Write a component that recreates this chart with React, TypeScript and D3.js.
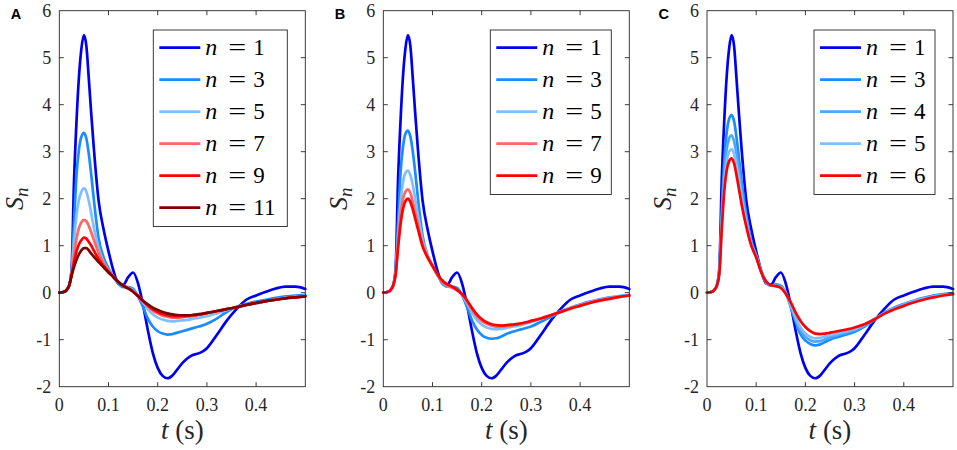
import React from 'react';
import * as d3 from 'd3';

// sample times (s), finer around the sharp peak
const T = [
  0, 0.01, 0.015, 0.02,
  0.025, 0.03, 0.035, 0.04, 0.045, 0.05, 0.055, 0.06, 0.065, 0.07,
  0.08, 0.09, 0.1, 0.11, 0.12, 0.13, 0.14, 0.15, 0.16, 0.17,
  0.18, 0.19, 0.2, 0.21, 0.22, 0.23, 0.24, 0.25, 0.26, 0.27, 0.28, 0.29, 0.3,
  0.32, 0.34, 0.36, 0.38, 0.4, 0.42, 0.44, 0.46, 0.48, 0.5,
];

// n = 1, same in every panel
const S1 = [
  0, 0.02, 0.06, 0.15,
  0.5, 2.4, 3.65, 4.6, 5.2, 5.48, 5.25, 4.55, 3.8, 3.1,
  1.95, 1.35, 0.88, 0.47, 0.2, 0.17, 0.33, 0.43, 0.2, -0.25,
  -0.8, -1.28, -1.6, -1.77, -1.82, -1.76, -1.63, -1.5, -1.4, -1.33, -1.3, -1.26, -1.18,
  -0.9, -0.6, -0.35, -0.15, -0.06, 0.02, 0.09, 0.13, 0.13, 0.08,
];

// panel A
const A3 = [
  0, 0.02, 0.06, 0.15,
  0.45, 1.5, 2.5, 3.05, 3.32, 3.4, 3.28, 2.95, 2.5, 2.0,
  1.15, 0.75, 0.52, 0.34, 0.19, 0.12, 0.12, 0.08, -0.08, -0.3,
  -0.55, -0.72, -0.82, -0.87, -0.89, -0.88, -0.85, -0.82, -0.79, -0.76, -0.73, -0.7, -0.66,
  -0.55, -0.41, -0.3, -0.24, -0.19, -0.15, -0.11, -0.08, -0.06, -0.05,
];
const A5 = [
  0, 0.02, 0.06, 0.15,
  0.42, 1.1, 1.65, 1.98, 2.15, 2.22, 2.15, 1.95, 1.68, 1.4,
  0.95, 0.66, 0.48, 0.34, 0.22, 0.15, 0.11, 0.05, -0.06, -0.2,
  -0.35, -0.46, -0.53, -0.57, -0.6, -0.61, -0.6, -0.59, -0.58, -0.56, -0.54, -0.52, -0.5,
  -0.44, -0.37, -0.31, -0.26, -0.22, -0.18, -0.14, -0.11, -0.09, -0.07,
];
const A7 = [
  0, 0.02, 0.06, 0.15,
  0.4, 0.8, 1.15, 1.38, 1.5, 1.55, 1.52, 1.42, 1.28, 1.13,
  0.85, 0.63, 0.47, 0.34, 0.23, 0.15, 0.1, 0.03, -0.07, -0.18,
  -0.29, -0.38, -0.44, -0.49, -0.51, -0.53, -0.53, -0.52, -0.51, -0.5, -0.48, -0.46, -0.44,
  -0.4, -0.35, -0.31, -0.26, -0.22, -0.18, -0.14, -0.11, -0.09, -0.07,
];
const A9 = [
  0, 0.02, 0.06, 0.15,
  0.38, 0.65, 0.88, 1.03, 1.12, 1.17, 1.15, 1.08, 1.0, 0.9,
  0.72, 0.57, 0.45, 0.34, 0.23, 0.15, 0.09, 0.02, -0.07, -0.17,
  -0.27, -0.35, -0.41, -0.45, -0.48, -0.5, -0.5, -0.5, -0.49, -0.48, -0.47, -0.45, -0.43,
  -0.39, -0.35, -0.31, -0.26, -0.22, -0.18, -0.15, -0.12, -0.1, -0.08,
];
const A11 = [
  0, 0.02, 0.06, 0.15,
  0.36, 0.55, 0.7, 0.82, 0.9, 0.95, 0.95, 0.9, 0.83, 0.77,
  0.65, 0.54, 0.43, 0.33, 0.23, 0.15, 0.09, 0.02, -0.07, -0.17,
  -0.25, -0.32, -0.37, -0.41, -0.44, -0.46, -0.475, -0.48, -0.48, -0.475, -0.46, -0.45, -0.43,
  -0.39, -0.35, -0.31, -0.26, -0.22, -0.18, -0.15, -0.12, -0.1, -0.08,
];

// panel B
const B3 = [
  0, 0.02, 0.06, 0.15,
  0.45, 1.5, 2.55, 3.1, 3.38, 3.45, 3.32, 3.0, 2.55, 2.05,
  1.2, 0.8, 0.58, 0.38, 0.2, 0.13, 0.13, 0.1, -0.05, -0.3,
  -0.58, -0.78, -0.9, -0.96, -0.98, -0.97, -0.93, -0.88, -0.84, -0.81, -0.78, -0.75, -0.72,
  -0.62, -0.52, -0.41, -0.32, -0.25, -0.19, -0.14, -0.1, -0.07, -0.05,
];
const B5 = [
  0, 0.02, 0.06, 0.15,
  0.42, 1.2, 1.9, 2.35, 2.55, 2.6, 2.5, 2.28, 1.98, 1.68,
  1.12, 0.78, 0.56, 0.37, 0.22, 0.14, 0.1, 0.05, -0.05, -0.22,
  -0.42, -0.58, -0.68, -0.74, -0.77, -0.78, -0.77, -0.75, -0.73, -0.71, -0.69, -0.66, -0.63,
  -0.56, -0.48, -0.4, -0.32, -0.26, -0.2, -0.15, -0.11, -0.08, -0.06,
];
const B7 = [
  0, 0.02, 0.06, 0.15,
  0.4, 1.05, 1.65, 2.0, 2.15, 2.2, 2.12, 1.93, 1.7, 1.47,
  1.02, 0.75, 0.56, 0.38, 0.23, 0.15, 0.11, 0.05, -0.03, -0.18,
  -0.36, -0.5, -0.6, -0.66, -0.7, -0.72, -0.72, -0.71, -0.7, -0.68, -0.66, -0.64, -0.61,
  -0.55, -0.48, -0.41, -0.33, -0.27, -0.21, -0.16, -0.12, -0.09, -0.06,
];
const B9 = [
  0, 0.02, 0.06, 0.15,
  0.38, 0.95, 1.45, 1.78, 1.95, 2.0, 1.93, 1.77, 1.57, 1.37,
  0.98, 0.75, 0.57, 0.4, 0.26, 0.18, 0.13, 0.06, -0.03, -0.16,
  -0.32, -0.46, -0.56, -0.63, -0.67, -0.69, -0.7, -0.69, -0.68, -0.67, -0.65, -0.63, -0.6,
  -0.55, -0.48, -0.41, -0.34, -0.28, -0.22, -0.17, -0.13, -0.09, -0.06,
];

// panel C
const C3 = [
  0, 0.02, 0.06, 0.15,
  0.45, 1.7, 2.8, 3.4, 3.7, 3.78, 3.65, 3.3, 2.85, 2.4,
  1.65, 1.1, 0.8, 0.47, 0.23, 0.15, 0.18, 0.15, 0.0, -0.3,
  -0.62, -0.88, -1.02, -1.09, -1.12, -1.1, -1.05, -1.0, -0.96, -0.93, -0.9, -0.87, -0.83,
  -0.72, -0.58, -0.43, -0.32, -0.24, -0.17, -0.11, -0.06, -0.03, -0.01,
];
const C4 = [
  0, 0.02, 0.06, 0.15,
  0.44, 1.55, 2.5, 3.05, 3.28, 3.35, 3.22, 2.95, 2.6, 2.2,
  1.55, 1.05, 0.78, 0.46, 0.23, 0.15, 0.16, 0.13, 0.0, -0.27,
  -0.57, -0.8, -0.94, -1.01, -1.04, -1.03, -0.99, -0.95, -0.92, -0.89, -0.86, -0.83, -0.8,
  -0.7, -0.57, -0.44, -0.33, -0.25, -0.18, -0.12, -0.07, -0.04, -0.02,
];
const C5 = [
  0, 0.02, 0.06, 0.15,
  0.43, 1.45, 2.3, 2.8, 3.0, 3.05, 2.95, 2.7, 2.4, 2.05,
  1.48, 1.03, 0.77, 0.45, 0.23, 0.15, 0.14, 0.11, -0.01, -0.25,
  -0.52, -0.74, -0.87, -0.94, -0.97, -0.96, -0.93, -0.9, -0.88, -0.85, -0.83, -0.8, -0.77,
  -0.68, -0.56, -0.44, -0.34, -0.26, -0.19, -0.13, -0.08, -0.05, -0.03,
];
const C6 = [
  0, 0.02, 0.06, 0.15,
  0.4, 1.35, 2.15, 2.6, 2.8, 2.86, 2.75, 2.5, 2.2, 1.9,
  1.4, 1.0, 0.75, 0.44, 0.24, 0.16, 0.14, 0.1, -0.02, -0.2,
  -0.42, -0.6, -0.73, -0.82, -0.87, -0.88, -0.87, -0.85, -0.83, -0.81, -0.79, -0.77, -0.74,
  -0.67, -0.57, -0.45, -0.36, -0.28, -0.21, -0.15, -0.1, -0.06, -0.03,
];

const X_TICKS = [0, 0.1, 0.2, 0.3, 0.4];
const Y_TICKS = [-2, -1, 0, 1, 2, 3, 4, 5, 6];

const BLUE = '#0000f0';
const MID_BLUE = '#1a8cff';
const BLUE_4 = '#4da6ff';
const LIGHT_BLUE = '#80bfff';
const LIGHT_RED = '#ff6666';
const RED = '#ff0000';
const DARK_RED = '#800000';

interface Series { n: number; values: number[]; color: string; }
interface PanelDef { tag: string; legendWidth: number; series: Series[]; }

const panels: PanelDef[] = [
  {
    tag: 'A', legendWidth: 134,
    series: [
      { n: 1, values: S1, color: BLUE },
      { n: 3, values: A3, color: MID_BLUE },
      { n: 5, values: A5, color: LIGHT_BLUE },
      { n: 7, values: A7, color: LIGHT_RED },
      { n: 9, values: A9, color: RED },
      { n: 11, values: A11, color: DARK_RED },
    ],
  },
  {
    tag: 'B', legendWidth: 121,
    series: [
      { n: 1, values: S1, color: BLUE },
      { n: 3, values: B3, color: MID_BLUE },
      { n: 5, values: B5, color: LIGHT_BLUE },
      { n: 7, values: B7, color: LIGHT_RED },
      { n: 9, values: B9, color: RED },
    ],
  },
  {
    tag: 'C', legendWidth: 121,
    series: [
      { n: 1, values: S1, color: BLUE },
      { n: 3, values: C3, color: MID_BLUE },
      { n: 4, values: C4, color: BLUE_4 },
      { n: 5, values: C5, color: LIGHT_BLUE },
      { n: 6, values: C6, color: RED },
    ],
  },
];

const W = 957;
const H = 450;
const LEFTS = [59.3, 383.3, 707];
const PLOT_W = 246;
const TOP = 10.7;
const BOTTOM = 386.7;
const TICK = 4.5;
const INK = '#262626';
const SERIF = 'Liberation Serif';
const LW = 2.7;

const Panel: React.FC<{ def: PanelDef; left: number }> = ({ def, left }) => {
  const right = left + PLOT_W;
  const x = d3.scaleLinear().domain([0, 0.5]).range([left, right]);
  const y = d3.scaleLinear().domain([-2, 6]).range([BOTTOM, TOP]);
  const line = d3.line<number>()
    .x((_, i) => x(T[i]))
    .y(d => y(d))
    .curve(d3.curveMonotoneX);

  const lx = right - 18 - def.legendWidth;
  const ly = 30;
  const rowH = 32;
  const midY = (TOP + BOTTOM) / 2;

  return (
    <g>
      <text x={left - 48.5} y={18.5} fontFamily="Liberation Sans"
        fontWeight="bold" fontSize={14.5} fill="#000">{def.tag}</text>

      {/* curves */}
      {def.series.map(s => (
        <path key={s.n} d={line(s.values) ?? ''} fill="none" stroke={s.color}
          strokeWidth={LW} strokeLinejoin="round" strokeLinecap="round" />
      ))}

      {/* box and inward ticks */}
      <rect x={left} y={TOP} width={PLOT_W} height={BOTTOM - TOP} fill="none"
        stroke={INK} strokeWidth={0.9} />
      {X_TICKS.slice(1).map(t => (
        <g key={t}>
          <line x1={x(t)} x2={x(t)} y1={BOTTOM} y2={BOTTOM - TICK} stroke={INK} strokeWidth={0.9} />
          <line x1={x(t)} x2={x(t)} y1={TOP} y2={TOP + TICK} stroke={INK} strokeWidth={0.9} />
        </g>
      ))}
      {Y_TICKS.slice(1, -1).map(v => (
        <g key={v}>
          <line x1={left} x2={left + TICK} y1={y(v)} y2={y(v)} stroke={INK} strokeWidth={0.9} />
          <line x1={right} x2={right - TICK} y1={y(v)} y2={y(v)} stroke={INK} strokeWidth={0.9} />
        </g>
      ))}

      {/* tick labels */}
      {X_TICKS.map(t => (
        <text key={t} x={x(t)} y={411} textAnchor="middle" fontFamily={SERIF}
          fontSize={18} fill={INK}>{t === 0 ? '0' : d3.format('.1f')(t)}</text>
      ))}
      {Y_TICKS.map(v => (
        <text key={v} x={left - 8} y={y(v) + 6} textAnchor="end" fontFamily={SERIF}
          fontSize={18} fill={INK}>{v}</text>
      ))}

      {/* axis labels */}
      <text x={(left + right) / 2} y={439} textAnchor="middle" fontFamily={SERIF}
        fontSize={27} fill={INK}>
        <tspan fontStyle="italic">t</tspan> (s)
      </text>
      <text transform={`translate(${left - 36},${midY}) rotate(-90)`} textAnchor="middle"
        fontFamily={SERIF} fontSize={26} fill={INK}>
        <tspan fontStyle="italic">S</tspan>
        <tspan fontStyle="italic" fontSize={19} dy={5}>n</tspan>
      </text>

      {/* legend */}
      <rect x={lx} y={ly} width={def.legendWidth} height={def.series.length * rowH + 4.5}
        fill="#fff" stroke={INK} strokeWidth={0.9} />
      {def.series.map((s, i) => {
        const cy = ly + 17.7 + i * rowH;
        return (
          <g key={s.n}>
            <line x1={lx + 6} x2={lx + 47} y1={cy} y2={cy} stroke={s.color} strokeWidth={LW} />
            <text x={lx + 52} y={cy + 7.5} fontFamily={SERIF} fontSize={24}
              fontStyle="italic" fill="#000">n</text>
            <text x={lx + 75} y={cy + 7.5} fontFamily={SERIF} fontSize={24}
              textLength={18} lengthAdjust="spacingAndGlyphs" fill="#000">=</text>
            <text x={lx + 100} y={cy + 7.5} fontFamily={SERIF} fontSize={23}
              fill="#000">{s.n}</text>
          </g>
        );
      })}
    </g>
  );
};

const App: React.FC = () => (
  <svg width={W} height={H} viewBox={`0 0 ${W} ${H}`}
    style={{ position: 'absolute', left: 0, top: 0, background: '#fff' }}>
    <rect width={W} height={H} fill="#fff" />
    {panels.map((p, i) => <Panel key={p.tag} def={p} left={LEFTS[i]} />)}
  </svg>
);

export default App;
